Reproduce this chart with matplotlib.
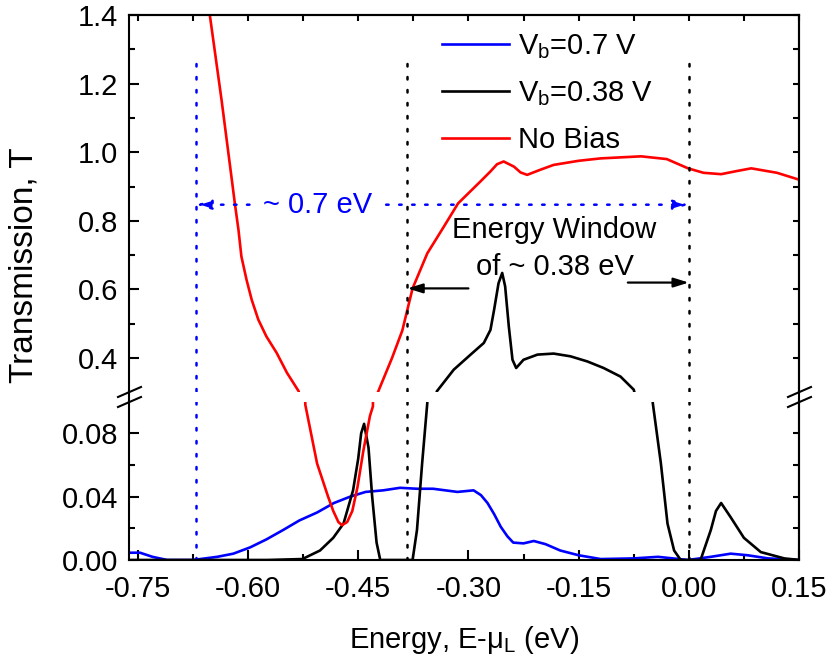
import matplotlib
matplotlib.use('Agg')
import matplotlib.pyplot as plt
from matplotlib.lines import Line2D

plt.rcParams['font.family'] = ['Liberation Sans', 'DejaVu Sans']
plt.rcParams['axes.unicode_minus'] = False
plt.rcParams['mathtext.fontset'] = 'custom'
plt.rcParams['mathtext.rm'] = 'Liberation Sans'
plt.rcParams['font.size'] = 21

# --- donnees ---
# Vb = 0.7 V (bleu)
e_07 = [-0.762, -0.747, -0.730, -0.710, -0.675, -0.642, -0.620, -0.597, -0.575, -0.552,
        -0.530, -0.506, -0.483, -0.461, -0.440, -0.416, -0.393, -0.370, -0.348, -0.315,
        -0.293, -0.283, -0.274, -0.265, -0.256, -0.247, -0.239, -0.225, -0.211, -0.195,
        -0.175, -0.150, -0.120, -0.075, -0.042, -0.001, 0.030, 0.057, 0.080, 0.108, 0.151]
t_07 = [0.0046, 0.0046, 0.002, 0.0, 0.0, 0.002, 0.004, 0.008, 0.013, 0.019,
        0.025, 0.030, 0.036, 0.040, 0.043, 0.044, 0.0456, 0.045, 0.045, 0.043,
        0.044, 0.041, 0.036, 0.029, 0.021, 0.015, 0.011, 0.0105, 0.012, 0.010,
        0.006, 0.003, 0.0006, 0.001, 0.002, 0.0, 0.002, 0.004, 0.003, 0.001, 0.0]

# Vb = 0.38 V (noir)
e_038 = [-0.762, -0.574, -0.526, -0.502, -0.484, -0.470, -0.457, -0.450, -0.446, -0.442,
         -0.436, -0.431, -0.425, -0.420, -0.376, -0.370, -0.363, -0.356, -0.343, -0.320,
         -0.297, -0.279, -0.270, -0.265, -0.259, -0.254, -0.250, -0.245, -0.240, -0.235,
         -0.225, -0.206, -0.184, -0.161, -0.138, -0.116, -0.093, -0.075, -0.049, -0.038,
         -0.029, -0.020, -0.011, 0.016, 0.030, 0.037, 0.044, 0.057, 0.075, 0.098, 0.130, 0.151]
t_038 = [0.0, 0.0, 0.0006, 0.006, 0.014, 0.023, 0.044, 0.064, 0.080, 0.086,
         0.071, 0.040, 0.011, 0.0, 0.0, 0.019, 0.061, 0.099, 0.303, 0.366,
         0.410, 0.444, 0.482, 0.541, 0.618, 0.648, 0.609, 0.492, 0.395, 0.371,
         0.395, 0.410, 0.413, 0.405, 0.390, 0.371, 0.346, 0.308, 0.099, 0.061,
         0.023, 0.006, 0.0, 0.0, 0.019, 0.031, 0.036, 0.027, 0.014, 0.005, 0.001, 0.0]

# sans biais (rouge)
e_nb = [-0.665, -0.652, -0.636, -0.622, -0.618, -0.613, -0.609, -0.602, -0.595, -0.586,
        -0.575, -0.561, -0.547, -0.531, -0.522, -0.506, -0.491, -0.484, -0.477, -0.472,
        -0.465, -0.458, -0.451, -0.443, -0.434, -0.430, -0.424, -0.404, -0.390, -0.376,
        -0.356, -0.334, -0.314, -0.284, -0.270, -0.261, -0.252, -0.238, -0.229, -0.220,
        -0.202, -0.184, -0.150, -0.120, -0.065, -0.030, -0.001, 0.020, 0.044, 0.065,
        0.085, 0.120, 0.153]
t_nb = [1.60, 1.40, 1.152, 0.919, 0.852, 0.774, 0.696, 0.628, 0.570, 0.512,
        0.463, 0.415, 0.357, 0.303, 0.098, 0.061, 0.040, 0.031, 0.024, 0.022,
        0.024, 0.031, 0.046, 0.069, 0.091, 0.097, 0.296, 0.400, 0.480, 0.603,
        0.705, 0.781, 0.851, 0.914, 0.944, 0.965, 0.973, 0.958, 0.941, 0.934,
        0.949, 0.963, 0.975, 0.982, 0.988, 0.980, 0.953, 0.940, 0.936, 0.945,
        0.953, 0.940, 0.918]

# lignes verticales (fenetres en energie)
e_win07 = [-0.671, 0.0]
e_win038 = [-0.383, 0.0]
y_arrow07 = 0.847
y_arrow038 = [0.603, 0.62]

xticks = [-0.75, -0.60, -0.45, -0.30, -0.15, 0.00, 0.15]
xminor = [-0.675, -0.525, -0.375, -0.225, -0.075, 0.075]
yticks_hi = [0.4, 0.6, 0.8, 1.0, 1.2, 1.4]
yticks_lo = [0.00, 0.04, 0.08]

W, H = 833.0, 665.0
def fx(px):
    return px / W
def fy(py):
    return 1 - py / H

fig = plt.figure(figsize=(W / 100, H / 100), dpi=100)
ax_hi = fig.add_axes([fx(129), fy(392), fx(799) - fx(129), fy(15) - fy(392)])
ax_lo = fig.add_axes([fx(129), fy(560), fx(799) - fx(129), fy(402) - fy(560)])

dots = (0, (1, 4.2))
lw = 1.9
for ax in (ax_hi, ax_lo):
    ax.plot(e_07, t_07, color='#0000ff', lw=lw, label=r'V$_\mathregular{b}$=0.7 V')
    ax.plot(e_038, t_038, color='black', lw=lw, label=r'V$_\mathregular{b}$=0.38 V')
    ax.plot(e_nb, t_nb, color='#ff0000', lw=lw, label='No Bias')
    ax.plot([e_win07[0]] * 2, [0, 1.26], color='#0000ff', lw=1.8, ls=dots, dash_capstyle='round')
    ax.plot([e_win038[0]] * 2, [0, 1.27], color='black', lw=1.8, ls=dots, dash_capstyle='round')
    ax.plot([e_win038[1]] * 2, [0, 1.26], color='black', lw=1.8, ls=dots, dash_capstyle='round')
    ax.set_xlim(-0.762, 0.15)
    for s in ax.spines.values():
        s.set_linewidth(1.5)
    ax.tick_params(which='both', direction='in', width=1.5, labelsize=21)
    ax.tick_params(axis='y', pad=8)
    ax.tick_params(axis='x', pad=11)
    ax.tick_params(which='major', length=7)
    ax.tick_params(which='minor', length=4.5)

ax_hi.set_ylim(0.301, 1.4)
ax_lo.set_ylim(0, 0.0998)
ax_hi.spines['bottom'].set_visible(False)
ax_lo.spines['top'].set_visible(False)
ax_hi.set_yticks(yticks_hi)
ax_hi.set_yticks([0.5, 0.7, 0.9, 1.1, 1.3], minor=True)
ax_lo.set_yticks(yticks_lo)
ax_lo.set_yticks([0.02, 0.06], minor=True)
ax_lo.set_xticks(xticks)
ax_lo.set_xticks(xminor, minor=True)
ax_hi.set_xticks([])
ax_hi.tick_params(axis='x', which='both', bottom=False, labelbottom=False)

# petits traits sur le haut et la droite
top = ax_hi.secondary_xaxis('top')
top.set_xticks(xticks)
top.set_xticks(xminor, minor=True)
top.tick_params(which='both', direction='in', length=4, width=1.5, labeltop=False)
top.spines['top'].set_linewidth(1.5)
for ax, step in ((ax_hi, [0.4 + 0.1 * i for i in range(11)]), (ax_lo, [0.02 * i for i in range(5)])):
    r = ax.secondary_yaxis('right')
    r.set_yticks(step)
    r.tick_params(which='both', direction='in', length=4, width=1.5, labelright=False)
    r.spines['right'].set_linewidth(1.5)

# fleches
ax_hi.text(-0.506, y_arrow07, '~ 0.7 eV', color='#0000ff', ha='center', va='center', fontsize=21)
arr_blue = dict(arrowstyle='-|>,head_length=0.45,head_width=0.14', color='#0000ff', lw=1.8,
                ls=dots, shrinkA=0, shrinkB=0, mutation_scale=20)
ax_hi.annotate('', xy=(e_win07[0], y_arrow07), xytext=(-0.598, y_arrow07), arrowprops=arr_blue)
ax_hi.annotate('', xy=(e_win07[1], y_arrow07), xytext=(-0.412, y_arrow07), arrowprops=arr_blue)

ax_hi.text(-0.184, 0.772, 'Energy Window', ha='center', va='center', fontsize=21)
ax_hi.text(-0.182, 0.664, 'of ~ 0.38 eV', ha='center', va='center', fontsize=21)
arr_black = dict(arrowstyle='-|>,head_length=0.45,head_width=0.14', color='black', lw=1.6,
                 shrinkA=0, shrinkB=0, mutation_scale=20)
ax_hi.annotate('', xy=(e_win038[0], y_arrow038[0]), xytext=(-0.300, y_arrow038[0]), arrowprops=arr_black)
ax_hi.annotate('', xy=(e_win038[1], y_arrow038[1]), xytext=(-0.083, y_arrow038[1]), arrowprops=arr_black)

# legende
ax_hi.legend(loc='upper left', bbox_to_anchor=(fx(442), fy(32)), bbox_transform=fig.transFigure,
             frameon=False, borderpad=0, borderaxespad=0, handlelength=2.3, handletextpad=0.32,
             labelspacing=0.62, fontsize=21)

# coupure de l'axe y
for xs in (129, 799):
    fig.add_artist(Line2D([fx(xs), fx(xs)], [fy(392), fy(402)], color='black', lw=1.5))
    fig.add_artist(Line2D([fx(xs - 11), fx(xs + 12)], [fy(397), fy(387)], color='black', lw=1.5))
    fig.add_artist(Line2D([fx(xs - 11), fx(xs + 12)], [fy(407), fy(397)], color='black', lw=1.5))

fig.text(fx(24), fy(265), 'Transmission, T', rotation=90, ha='center', va='center', fontsize=24)
fig.text(fx(464), fy(640), r'Energy, E-μ$_\mathregular{L}$ (eV)', ha='center', va='center', fontsize=21)

fig.savefig('out.png', dpi=100)
